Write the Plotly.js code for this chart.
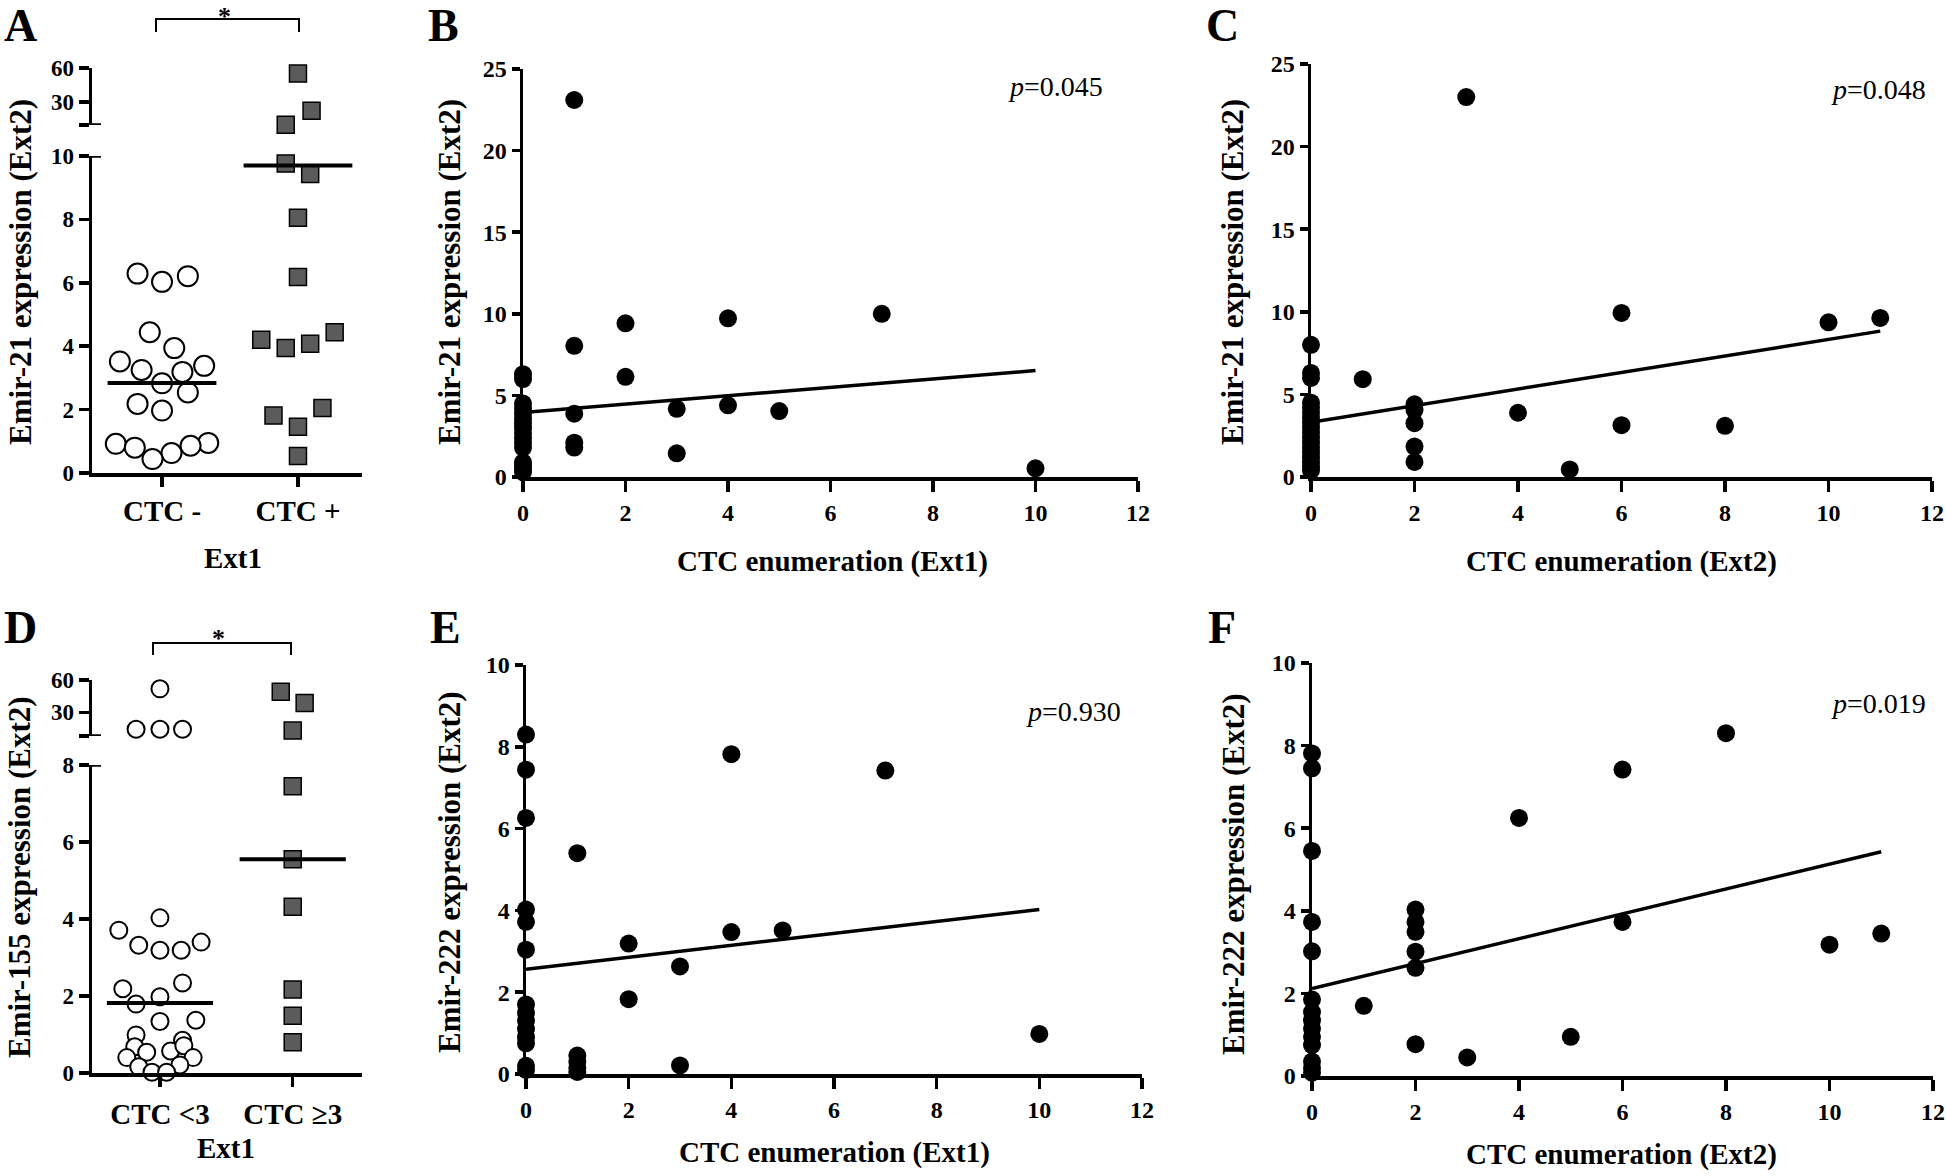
<!DOCTYPE html>
<html><head><meta charset="utf-8">
<script src="https://cdn.plot.ly/plotly-3.0.1.min.js"></script>
<style>html,body{margin:0;padding:0;background:#fff;}#chart{width:1946px;height:1176px;}</style>
</head><body><div id="chart"></div>
<script>
// ---------- DATA ----------
// Panel A: Emir-21 (Ext2) by CTC status (Ext1); offsets = horizontal scatter within group
const aCategories = ['CTC -', 'CTC +'];
const aNegVal = [6.29, 6.03, 6.21, 4.44, 3.94, 3.52, 3.38, 3.25, 3.19, 2.83, 2.54, 2.18, 1.97, 0.92, 0.80, 0.95, 0.86, 0.63, 0.44];
const aNegOff = [-0.18, 0, 0.19, -0.09, 0.09, -0.31, 0.31, -0.15, 0.15, 0, 0.19, -0.18, 0, -0.34, -0.20, 0.34, 0.21, 0.07, -0.07];
const aPosVal = [55.1, 22.5, 10.2, 9.76, 9.43, 8.05, 6.18, 4.20, 3.94, 4.08, 4.44, 1.81, 1.46, 2.05, 0.54];
const aPosOff = [0, 0.10, -0.09, -0.09, 0.09, 0, 0, -0.27, -0.09, 0.09, 0.27, -0.18, 0, 0.18, 0];
const aCenter = [2.84, 9.70];

// Panel D: Emir-155 (Ext2) by CTC count (Ext1)
const dCategories = ['CTC <3', 'CTC \u22653'];
const dLowVal = [51.8, 14.3, 14.3, 14.3, 4.03, 3.71, 3.32, 3.19, 3.19, 3.40, 2.34, 2.19, 1.98, 1.79, 1.34, 1.37, 0.99, 0.85, 0.68, 0.54, 0.57, 0.71, 0.40, 0.40, 0.16, 0.21, 0.02, 0.02];
const dLowOff = [0, -0.18, 0, 0.17, 0, -0.31, -0.16, 0, 0.16, 0.31, 0.17, -0.28, 0, -0.18, 0, 0.27, -0.18, 0.17, -0.19, -0.10, 0.08, 0.18, -0.25, 0.25, -0.16, 0.15, -0.06, 0.05];
const dHighVal = [49.0, 38.7, 13.0, 7.45, 5.55, 4.32, 2.17, 1.49, 0.80];
const dHighOff = [-0.09, 0.09, 0, 0, 0, 0, 0, 0, 0];
const dCenter = [1.82, 5.55];

// Panel B: CTC enumeration (Ext1) vs Emir-21 (Ext2)
const bCTC  = [0,0,0,0,0,0,0,0,0,0,0,0,0,0,0,0, 1,1,1,1,1, 2,2, 3,3, 4,4, 5, 7, 10];
const bExpr = [6.3,6.0,4.5,4.2,3.9,3.6,3.3,3.0,2.7,2.4,2.1,1.8,0.9,0.7,0.5,0.3, 23.1,8.04,3.88,2.1,1.8, 9.42,6.14, 4.18,1.45, 9.72,4.39, 4.04, 10.0, 0.53];
const bFitX = [0, 10], bFitY = [3.95, 6.52];
const bP = '0.045';

// Panel C: CTC enumeration (Ext2) vs Emir-21 (Ext2)
const cCTC  = [0,0,0,0,0,0,0,0,0,0,0,0,0,0,0,0,0,0, 1, 2,2,2,2,2, 3, 4, 5, 6,6, 8, 10, 11];
const cExpr = [8.0,6.3,6.0,4.5,4.2,3.9,3.6,3.3,3.0,2.7,2.4,2.1,1.8,1.5,1.2,0.9,0.6,0.4, 5.92, 4.4,4.05,3.26,1.84,0.91, 23.0, 3.89, 0.46, 9.93,3.14, 3.10, 9.36, 9.63];
const cFitX = [0, 11], cFitY = [3.32, 8.83];
const cP = '0.048';

// Panel E: CTC enumeration (Ext1) vs Emir-222 (Ext2)
const eCTC  = [0,0,0,0,0,0,0,0,0,0,0,0,0,0, 1,1,1,1,1, 2,2, 3,3, 4,4, 5, 7, 10];
const eExpr = [8.30,7.44,6.26,4.02,3.72,3.04,1.7,1.5,1.3,1.1,0.9,0.75,0.2,0.1, 5.40,0.45,0.3,0.15,0.05, 3.19,1.83, 2.63,0.21, 7.82,3.47, 3.51, 7.42, 0.98];
const eFitX = [0, 10], eFitY = [2.56, 4.02];
const eP = '0.930';

// Panel F: CTC enumeration (Ext2) vs Emir-222 (Ext2)
const fCTC  = [0,0,0,0,0,0,0,0,0,0,0,0,0,0, 1, 2,2,2,2,2,2, 3, 4, 5, 6,6, 8, 10, 11];
const fExpr = [7.81,7.45,5.45,3.73,3.02,1.85,1.55,1.35,1.15,0.95,0.75,0.35,0.2,0.08, 1.70, 4.03,3.73,3.49,3.01,2.62,0.77, 0.45, 6.25, 0.95, 7.42,3.73, 8.30, 3.18, 3.45];
const fFitX = [0, 11], fFitY = [2.12, 5.43];
const fP = '0.019';

// ---------- LAYOUT HELPERS ----------
const W = 1946, H = 1176;
const PX = v => v / W, PY = v => 1 - v / H;
const FONT = 'Liberation Serif, Times New Roman, serif';
const LW = 3.5;

function ax(o) {
  return Object.assign({
    showline: true, linecolor: '#000', linewidth: LW, ticks: 'outside', tickcolor: '#000',
    tickwidth: LW, ticklen: 9, showgrid: false, zeroline: false, fixedrange: true,
    tickfont: {family: FONT, size: 24, color: '#000', weight: 'bold'}
  }, o);
}

const circA = {symbol: 'circle', size: 20, color: '#fff', line: {color: '#000', width: 2}};
const circD = {symbol: 'circle', size: 17, color: '#fff', line: {color: '#000', width: 2}};
const sq = {symbol: 'square', size: 17, color: '#5b5b5b', line: {color: '#000', width: 1.5}};
const dot = {symbol: 'circle', size: 18, color: '#000'};

function groupTraces(vals, offs, idx, thr, xa, yLo, yHi, marker) {
  const lo = {x: [], y: []}, hi = {x: [], y: []};
  vals.forEach((v, i) => { const t = v > thr ? hi : lo; t.x.push(idx + offs[i]); t.y.push(v); });
  const base = {type: 'scatter', mode: 'markers', xaxis: xa, marker, cliponaxis: false, hoverinfo: 'skip'};
  return [Object.assign({}, base, {x: lo.x, y: lo.y, yaxis: yLo}),
          Object.assign({}, base, {x: hi.x, y: hi.y, yaxis: yHi})];
}
function centerLine(idx, val, xa, ya) {
  return {type: 'scatter', mode: 'lines', x: [idx - 0.4, idx + 0.4], y: [val, val], xaxis: xa, yaxis: ya,
          line: {color: '#000', width: 4}, hoverinfo: 'skip', cliponaxis: false};
}
function scat(xs, ys, fx, fy, xa, ya) {
  return [
    {type: 'scatter', mode: 'lines', x: fx, y: fy, xaxis: xa, yaxis: ya, line: {color: '#000', width: 3.5}, hoverinfo: 'skip'},
    {type: 'scatter', mode: 'markers', x: xs, y: ys, xaxis: xa, yaxis: ya, marker: dot, cliponaxis: false, hoverinfo: 'skip'}
  ];
}

let traces = [];
// A
traces = traces.concat(groupTraces(aNegVal, aNegOff, 0, 10, 'x', 'y', 'y2', circA));
traces = traces.concat(groupTraces(aPosVal, aPosOff, 1, 10, 'x', 'y', 'y2', sq));
traces.push(centerLine(0, aCenter[0], 'x', 'y'), centerLine(1, aCenter[1], 'x', 'y'));
// D
traces = traces.concat(groupTraces(dLowVal, dLowOff, 0, 8, 'x2', 'y3', 'y4', circD));
traces = traces.concat(groupTraces(dHighVal, dHighOff, 1, 8, 'x2', 'y3', 'y4', sq));
traces.push(centerLine(0, dCenter[0], 'x2', 'y3'), centerLine(1, dCenter[1], 'x2', 'y3'));
// B C E F
traces = traces.concat(scat(bCTC, bExpr, bFitX, bFitY, 'x3', 'y5'));
traces = traces.concat(scat(cCTC, cExpr, cFitX, cFitY, 'x4', 'y6'));
traces = traces.concat(scat(eCTC, eExpr, eFitX, eFitY, 'x5', 'y7'));
traces = traces.concat(scat(fCTC, fExpr, fFitX, fFitY, 'x6', 'y8'));

const catFont = {family: FONT, size: 29, color: '#000', weight: 'bold'};
const yFontAD = {family: FONT, size: 23, color: '#000', weight: 'bold'};
const ctcTicks = [0, 2, 4, 6, 8, 10, 12];

const layout = {
  width: W, height: H, margin: {l: 0, r: 0, t: 0, b: 0}, paper_bgcolor: '#fff', plot_bgcolor: 'rgba(0,0,0,0)',
  showlegend: false, font: {family: FONT, color: '#000'},
  // Panel A
  xaxis: ax({domain: [PX(92), PX(362)], anchor: 'y', range: [-0.515, 1.471], tickvals: [0, 1], ticktext: aCategories,
             tickfont: catFont, ticklen: 10, ticklabelstandoff: 0}),
  yaxis: ax({domain: [PY(473), PY(156)], anchor: 'x', range: [0, 10], tickvals: [0, 2, 4, 6, 8, 10], tickfont: yFontAD, ticklen: 10}),
  yaxis2: ax({domain: [PY(125), PY(68)], anchor: 'x', range: [10, 60], tickvals: [10, 30, 60], ticktext: ['', '30', '60'], tickfont: yFontAD, ticklen: 10}),
  // Panel D
  xaxis2: ax({domain: [PX(92), PX(362)], anchor: 'y3', range: [-0.512, 1.522], tickvals: [0, 1], ticktext: dCategories,
              tickfont: catFont, ticklen: 10, ticklabelstandoff: 3}),
  yaxis3: ax({domain: [PY(1073), PY(765)], anchor: 'x2', range: [0, 8], tickvals: [0, 2, 4, 6, 8], tickfont: yFontAD, ticklen: 10}),
  yaxis4: ax({domain: [PY(736), PY(680)], anchor: 'x2', range: [8, 60], tickvals: [8, 30, 60], ticktext: ['', '30', '60'], tickfont: yFontAD, ticklen: 10}),
  // Panel B
  xaxis3: ax({domain: [PX(523), PX(1138)], anchor: 'y5', range: [0, 12], tickvals: ctcTicks, ticklen: 11, ticklabelstandoff: 1}),
  yaxis5: ax({domain: [PY(477), PY(69)], anchor: 'x3', range: [0, 25], tickvals: [0, 5, 10, 15, 20, 25], ticklen: 8}),
  // Panel C
  xaxis4: ax({domain: [PX(1311), PX(1932)], anchor: 'y6', range: [0, 12], tickvals: ctcTicks, ticklen: 11, ticklabelstandoff: 1}),
  yaxis6: ax({domain: [PY(477), PY(64)], anchor: 'x4', range: [0, 25], tickvals: [0, 5, 10, 15, 20, 25], ticklen: 8}),
  // Panel E
  xaxis5: ax({domain: [PX(526), PX(1142)], anchor: 'y7', range: [0, 12], tickvals: ctcTicks, ticklen: 11, ticklabelstandoff: 1}),
  yaxis7: ax({domain: [PY(1074), PY(665)], anchor: 'x5', range: [0, 10], tickvals: [0, 2, 4, 6, 8, 10], ticklen: 8}),
  // Panel F
  xaxis6: ax({domain: [PX(1312), PX(1933)], anchor: 'y8', range: [0, 12], tickvals: ctcTicks, ticklen: 11, ticklabelstandoff: 1}),
  yaxis8: ax({domain: [PY(1076), PY(663)], anchor: 'x6', range: [0, 10], tickvals: [0, 2, 4, 6, 8, 10], ticklen: 8}),
  shapes: [],
  annotations: []
};

// axis break caps and significance brackets
const capL = {type: 'line', xref: 'paper', line: {color: '#000', width: LW}};
layout.shapes.push(
  Object.assign({}, capL, {yref: 'y',  x0: PX(89), x1: PX(101), y0: 10, y1: 10}),
  Object.assign({}, capL, {yref: 'y2', x0: PX(81), x1: PX(101), y0: 10, y1: 10}),
  Object.assign({}, capL, {yref: 'y3', x0: PX(89), x1: PX(101), y0: 8, y1: 8}),
  Object.assign({}, capL, {yref: 'y4', x0: PX(81), x1: PX(101), y0: 8, y1: 8}),
  {type: 'path', xref: 'paper', yref: 'paper', line: {color: '#000', width: 2},
   path: `M ${PX(156)},${PY(32)} L ${PX(156)},${PY(19)} L ${PX(299)},${PY(19)} L ${PX(299)},${PY(32)}`},
  {type: 'path', xref: 'paper', yref: 'paper', line: {color: '#000', width: 2},
   path: `M ${PX(153)},${PY(655)} L ${PX(153)},${PY(643)} L ${PX(291)},${PY(643)} L ${PX(291)},${PY(655)}`}
);

function ann(text, x, y, size, opts) {
  return Object.assign({text, x: PX(x), y: PY(y), xref: 'paper', yref: 'paper', showarrow: false,
    xanchor: 'center', yanchor: 'middle', font: {family: FONT, size, color: '#000', weight: 'bold'}}, opts || {});
}
const letters = [['A', 20, 25], ['B', 443, 25], ['C', 1222, 25], ['D', 20, 627], ['E', 445, 627], ['F', 1222, 627]];
letters.forEach(l => layout.annotations.push(ann(l[0], l[1], l[2], 46)));
layout.annotations.push(
  ann('*', 224, 16, 26), ann('*', 218, 638, 26),
  ann('Ext1', 233, 558, 29), ann('Ext1', 226, 1148, 29),
  ann('Emir-21 expression (Ext2)', 20, 272, 31, {textangle: -90}),
  ann('Emir-155 expression (Ext2)', 19, 877, 31, {textangle: -90}),
  ann('Emir-21 expression (Ext2)', 449, 272, 31, {textangle: -90}),
  ann('Emir-21 expression (Ext2)', 1232, 272, 31, {textangle: -90}),
  ann('Emir-222 expression (Ext2)', 449, 872, 31, {textangle: -90}),
  ann('Emir-222 expression (Ext2)', 1233, 874, 31, {textangle: -90}),
  ann('CTC enumeration (Ext1)', 832, 562, 29),
  ann('CTC enumeration (Ext2)', 1621, 562, 29),
  ann('CTC enumeration (Ext1)', 834, 1152, 29),
  ann('CTC enumeration (Ext2)', 1621, 1154, 29)
);
const pFont = {family: FONT, size: 28, color: '#000', weight: 'normal'};
[[bP, 1105, 86], [cP, 1928, 89], [eP, 1123, 711], [fP, 1928, 703]].forEach(p =>
  layout.annotations.push(ann('<i>p</i>=' + p[0], p[1], p[2], 28, {xanchor: 'right', font: pFont})));

Plotly.newPlot('chart', traces, layout, {staticPlot: true, displayModeBar: false});
</script></body></html>
